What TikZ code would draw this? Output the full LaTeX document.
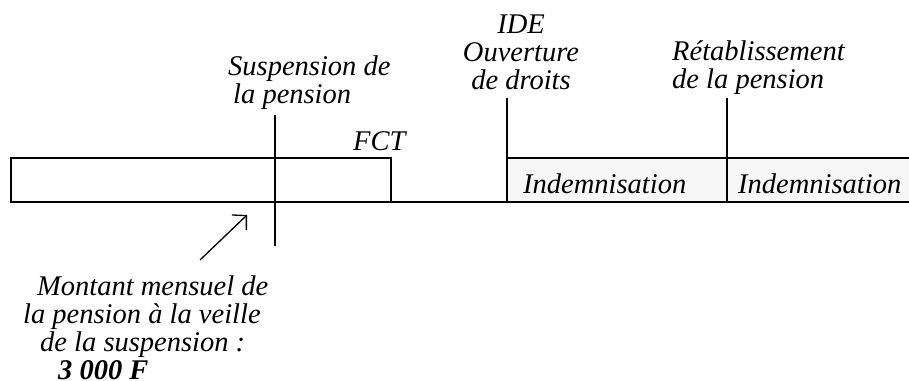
\documentclass[tikz,border=0pt]{standalone}
\usepackage{fontspec}
\setmainfont{Liberation Serif}
\usetikzlibrary{arrows.meta}

\tikzset{
  rule/.style={line width=1.6pt, line cap=rect},
  label/.style={inner sep=0pt, font=\fontsize{28.5}{28}\selectfont\itshape},
  tick/.style={line width=1.6pt},
}

\begin{document}
\begin{tikzpicture}[x=1pt, y=-1pt]
  \useasboundingbox (0,0) rectangle (909,380);

  % time axis: the pension period before the suspension and the two indemnity periods
  \fill[black!3] (507,158) rectangle (909,202);
  \draw[rule] (391,202) -- (11,202) -- (11,158) -- (391,158) -- (391,202) -- (909,202);
  \draw[rule] (507,158) -- (909,158);

  % event markers
  \coordinate (susTop) at (275,115);
  \coordinate (susBot) at (275,246);
  \coordinate (ideTop) at (507,98);
  \coordinate (ideBot) at (507,202);
  \coordinate (retTop) at (727,98);
  \coordinate (retBot) at (727,202);
  \draw[tick] (susTop) -- (susBot);
  \draw[tick] (ideTop) -- (ideBot);
  \draw[tick] (retTop) -- (retBot);

  % labels (multi-line labels are placed by the baseline of their last line)
  \node[label, anchor=base west, align=left] (sus) at (228,103)
    {Suspension de\\\hspace*{5pt}la pension};
  \node[label, anchor=base west] (fct) at (353,150) {FCT};
  \node[label, anchor=base, align=center] (ide) at (521,89)
    {IDE\\Ouverture\\de droits};
  \node[label, anchor=base west, align=left] (ret) at (672,88)
    {Rétablissement\\de la pension};
  \node[label, anchor=base west] (ind1) at (523,193) {Indemnisation};
  \node[label, anchor=base west] (ind2) at (738,193) {Indemnisation};
  \node[label, anchor=base west, align=left] (mont) at (23,379)
    {\hspace*{14pt}Montant mensuel de\\
     la pension à la veille\\
     \hspace*{17pt}de la suspension :\\
     \hspace*{35pt}\textbf{3 000 F}};

  % pointer from the amount to the pension bar
  \coordinate (arrTip) at (247,215);
  \coordinate (arrTail) at (200,260);
  \draw[line width=1.3pt, -{Straight Barb[length=10pt,width=21pt]}] (arrTail) -- (arrTip);
\end{tikzpicture}
\end{document}
